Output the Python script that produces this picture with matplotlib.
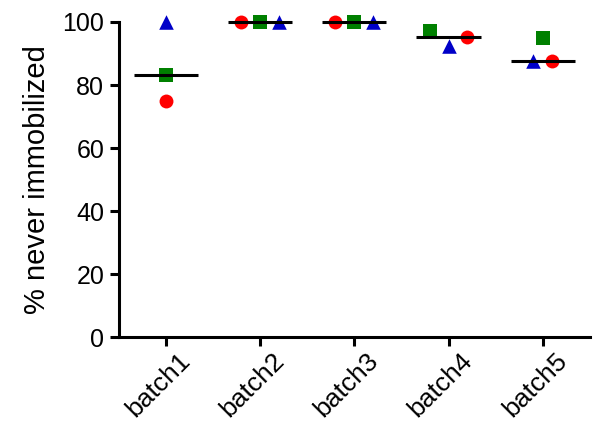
import numpy as np
import matplotlib
matplotlib.use("Agg")
import matplotlib.pyplot as plt
import matplotlib.transforms as mtransforms

plt.rcParams['font.family'] = ['Liberation Sans', 'DejaVu Sans']

batches = ["batch1", "batch2", "batch3", "batch4", "batch5"]
# three replicate series per batch
circle_vals = [75.0, 100.0, 100.0, 95.2, 87.5]
square_vals = [83.3, 100.0, 100.0, 97.0, 94.8]
triangle_vals = [100.0, 100.0, 100.0, 92.5, 87.5]
# horizontal spread of overlapping points (category units)
circle_dx = [0.0, -0.2, -0.2, 0.2, 0.1]
square_dx = [0.0, 0.0, 0.0, -0.2, 0.0]
triangle_dx = [0.0, 0.2, 0.2, 0.0, -0.1]

fig = plt.figure(figsize=(6.0, 4.28), dpi=100)
ax = fig.add_axes([0.198, 0.2126, 0.785, 0.736])

x = np.arange(len(batches))
ax.scatter(x + np.array(circle_dx), circle_vals, marker='o', s=100, color='#ff0000',
           linewidths=0, zorder=3, clip_on=False)
ax.scatter(x + np.array(square_dx), square_vals, marker='s', s=95, color='#008000',
           linewidths=0, zorder=3, clip_on=False)
ax.scatter(x + np.array(triangle_dx), triangle_vals, marker='^', s=110, color='#0000c8',
           linewidths=0, zorder=3, clip_on=False)

medians = np.median(np.vstack([circle_vals, square_vals, triangle_vals]), axis=0)
for xi, m in zip(x, medians):
    ax.plot([xi - 0.34, xi + 0.34], [m, m], color='black', lw=2.2, zorder=4,
            solid_capstyle='butt', clip_on=False)

ax.set_xlim(-0.5, 4.5)
ax.set_ylim(0, 100)
ax.set_yticks([0, 20, 40, 60, 80, 100])
ax.set_xticks(x)
ax.set_xticklabels(batches, rotation=45, ha='right', rotation_mode='anchor')
ax.set_ylabel("% never immobilized", fontsize=21, labelpad=8)

for side in ['top', 'right']:
    ax.spines[side].set_visible(False)
for side in ['left', 'bottom']:
    ax.spines[side].set_linewidth(2.2)
ax.tick_params(axis='both', width=2.2, length=6.5)
ax.tick_params(axis='y', labelsize=18, pad=4)
ax.tick_params(axis='x', labelsize=19, pad=2)
shift = mtransforms.ScaledTranslation(12 / 100, 0, fig.dpi_scale_trans)
for lbl in ax.get_xticklabels():
    lbl.set_transform(lbl.get_transform() + shift)

fig.savefig("out.png", dpi=100)
